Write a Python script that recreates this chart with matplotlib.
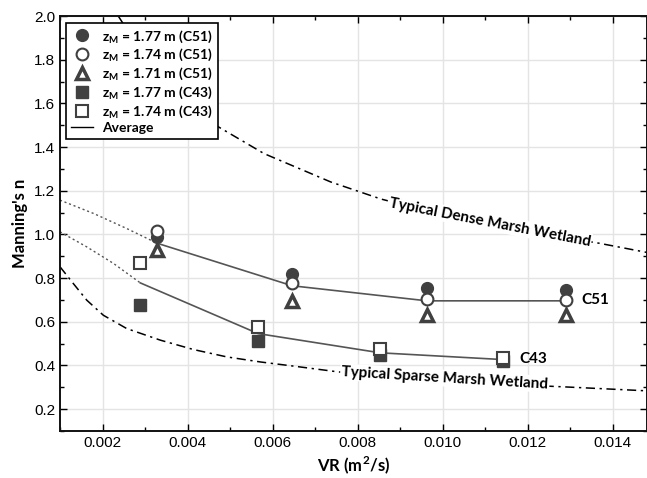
import matplotlib.pyplot as plt
from matplotlib.ticker import MultipleLocator, FormatStrFormatter

plt.rcParams['mathtext.fontset'] = 'custom'
plt.rcParams['mathtext.rm'] = 'Lato'
plt.rcParams['mathtext.bf'] = 'Lato:bold'

vr_c51 = [0.00328, 0.00646, 0.00963, 0.01289]
n_c51_177 = [0.99, 0.818, 0.755, 0.745]
n_c51_174 = [1.015, 0.776, 0.704, 0.702]
n_c51_171 = [0.931, 0.694, 0.630, 0.630]

vr_c43 = [0.00289, 0.00566, 0.00853, 0.01142]
n_c43_177 = [0.679, 0.514, 0.446, 0.420]
n_c43_174 = [0.867, 0.575, 0.475, 0.435]

# average lines
avg_c51 = [0.96, 0.765, 0.696, 0.696]
avg_c43 = [0.778, 0.546, 0.458, 0.427]

# dotted extrapolation towards small VR
ext_c51_x = [0.001, 0.00179, 0.00257, 0.00328]
ext_c51_y = [1.157, 1.096, 1.027, 0.96]
ext_c43_x = [0.001, 0.00163, 0.00226, 0.00289]
ext_c43_y = [1.012, 0.943, 0.867, 0.778]

# typical wetland curves
dense_x = [0.00237, 0.0030, 0.0038, 0.00466, 0.0058, 0.00737, 0.00855, 0.0100, 0.0118, 0.01367, 0.0149]
dense_y = [2.0, 1.81, 1.64, 1.50, 1.37, 1.24, 1.162, 1.09, 1.02, 0.96, 0.914]
sparse_x = [0.001, 0.00131, 0.00163, 0.00202, 0.00257, 0.00336, 0.00414, 0.00493,
            0.00572, 0.0065, 0.00753, 0.0090, 0.0110, 0.01287, 0.0149]
sparse_y = [0.852, 0.776, 0.699, 0.630, 0.569, 0.516, 0.473, 0.439,
            0.416, 0.397, 0.371, 0.344, 0.318, 0.302, 0.283]

dark = '#404040'
lab_font = 'Lato'

fig = plt.figure(figsize=(6.47, 4.78), dpi=100)
ax = fig.add_axes([0.0927, 0.0983, 0.907, 0.8682])

ax.grid(True, which='major', color='#e4e4e4', linewidth=1.0)
ax.set_axisbelow(True)

ax.plot(dense_x, dense_y, color='black', linestyle=(0, (6, 3, 1.5, 3)), linewidth=1.1)
ax.plot(sparse_x, sparse_y, color='black', linestyle=(0, (6, 3, 1.5, 3)), linewidth=1.1)
ax.plot(ext_c51_x, ext_c51_y, color='#555555', linestyle=(0, (1.5, 2)), linewidth=1.0)
ax.plot(ext_c43_x, ext_c43_y, color='#555555', linestyle=(0, (1.5, 2)), linewidth=1.0)

ax.plot(vr_c51, avg_c51, color='#555555', linewidth=1.2)
ax.plot(vr_c43, avg_c43, color='#555555', linewidth=1.2)

ms = 8.5
ax.plot(vr_c51, n_c51_177, 'o', color=dark, ms=ms, mec=dark, label='z$_\\mathbf{M}$ = 1.77 m (C51)')
ax.plot(vr_c51, n_c51_174, 'o', mfc='white', mec=dark, mew=1.5, ms=ms, label='z$_\\mathbf{M}$ = 1.74 m (C51)')
ax.plot(vr_c51, n_c51_171, '^', mfc='white', mec=dark, mew=2.5, ms=ms - 0.5, label='z$_\\mathbf{M}$ = 1.71 m (C51)')
ax.plot(vr_c43, n_c43_177, 's', color=dark, mec=dark, ms=ms - 0.5, label='z$_\\mathbf{M}$ = 1.77 m (C43)')
ax.plot(vr_c43, n_c43_174, 's', mfc='white', mec=dark, mew=1.5, ms=ms - 0.5, label='z$_\\mathbf{M}$ = 1.74 m (C43)')
ax.plot([], [], color='black', linewidth=1.0, label='Average')

ax.text(0.0111, 1.056, 'Typical Dense Marsh Wetland', rotation=-11, ha='center', va='center',
        fontsize=11, fontweight='bold', family=lab_font,
        bbox=dict(facecolor='white', edgecolor='none', pad=1))
ax.text(0.01005, 0.342, 'Typical Sparse Marsh Wetland', rotation=-3.5, ha='center', va='center',
        fontsize=11, fontweight='bold', family=lab_font,
        bbox=dict(facecolor='white', edgecolor='none', pad=1))
ax.text(0.01326, 0.699, 'C51', ha='left', va='center', fontsize=11, fontweight='bold', family=lab_font)
ax.text(0.0118, 0.429, 'C43', ha='left', va='center', fontsize=11, fontweight='bold', family=lab_font)

ax.set_xlim(0.001, 0.0148)
ax.set_ylim(0.1, 2.0)
ax.xaxis.set_major_locator(MultipleLocator(0.002))
ax.xaxis.set_minor_locator(MultipleLocator(0.001))
ax.yaxis.set_major_locator(MultipleLocator(0.2))
ax.yaxis.set_minor_locator(MultipleLocator(0.1))
ax.xaxis.set_major_formatter(FormatStrFormatter('%.3f'))
ax.yaxis.set_major_formatter(FormatStrFormatter('%.1f'))
ax.set_xticks([0.002, 0.004, 0.006, 0.008, 0.010, 0.012, 0.014])
ax.set_yticks([0.2, 0.4, 0.6, 0.8, 1.0, 1.2, 1.4, 1.6, 1.8, 2.0])
ax.tick_params(which='both', direction='in', top=True, right=True, labelsize=11)
ax.tick_params(which='major', length=5, width=1)
ax.tick_params(which='minor', length=3, width=1)
for lbl in ax.get_xticklabels() + ax.get_yticklabels():
    lbl.set_family('Liberation Sans')
for sp in ax.spines.values():
    sp.set_linewidth(1.4)
    sp.set_color('#111111')

ax.set_xlabel('VR (m$^\\mathbf{2}$/s)', fontsize=12, fontweight='bold', family=lab_font, labelpad=3)
ax.set_ylabel("Manning's n", fontsize=12, fontweight='bold', family=lab_font, labelpad=4)

leg = ax.legend(loc='upper left', bbox_to_anchor=(0.006, 0.99), fancybox=False, framealpha=1,
                edgecolor='black', borderpad=0.35, labelspacing=0.15, handlelength=1.6,
                handletextpad=0.6, borderaxespad=0.2,
                prop={'family': lab_font, 'weight': 'bold', 'size': 10})
leg.get_frame().set_linewidth(1.2)

fig.savefig('out.png', dpi=100)
